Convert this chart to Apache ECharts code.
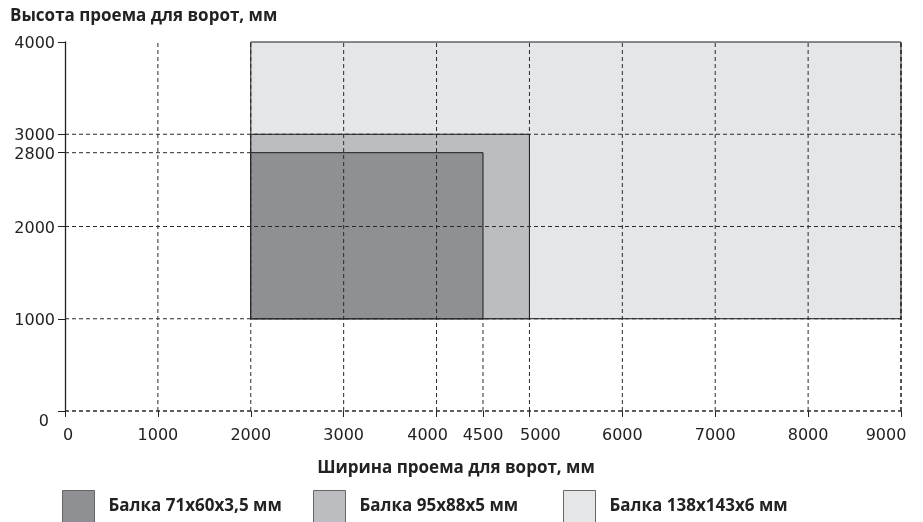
<!DOCTYPE html>
<html>
<head>
<meta charset="utf-8">
<script src="https://cdn.jsdelivr.net/npm/echarts@6/dist/echarts.min.js"></script>
<style>html,body{margin:0;padding:0;background:#fff}#c{width:923px;height:522px}</style>
</head>
<body>
<div id="c"></div>
<script>
const beams = ['Балка 71х60х3,5 мм', 'Балка 95х88х5 мм', 'Балка 138х143х6 мм'];
const beamColors = ['#8f9094', '#bcbdc0', '#e5e6e8'];
const xFrom = [2000, 2000, 2000];
const xTo = [4500, 5000, 9000];
const yFrom = [1000, 1000, 1000];
const yTo = [2800, 3000, 4000];
const xTicks = [0, 1000, 2000, 3000, 4000, 4500, 5000, 6000, 7000, 8000, 9000];
const yTicks = [0, 1000, 2000, 2800, 3000, 4000];
// grid lines: [value, from, to]
const vLines = [[1000,0,4000],[2000,0,4000],[3000,0,4000],[4000,0,4000],[4500,0,1000],[5000,0,4000],[6000,0,4000],[7000,0,4000],[8000,0,4000],[9000,0,4000]];
const hLines = [[1000,0,9000],[2000,0,9000],[2800,0,2000],[3000,0,9000],[0,0,9000]];

const chart = echarts.init(document.getElementById('c'), null, {renderer:'canvas'});
const font = '"Open Sans", "Liberation Sans", sans-serif';
const numFont = '"DejaVu Sans", sans-serif';
const lbl = {color:'#222', fontSize:16, fontFamily: numFont};
const rs = (pad) => ({fontSize:16, fontFamily: numFont, color:'#222', padding: pad});

const rectSeries = [2,1,0].map(i => ({
  name: beams[i],
  type: 'custom',
  z: 2,
  itemStyle: {color: beamColors[i], borderColor: '#777', borderWidth: 1},
  data: [[xFrom[i], yFrom[i], xTo[i], yTo[i]]],
  renderItem: function(params, api){
    const p1 = api.coord([api.value(0), api.value(1)]);
    const p2 = api.coord([api.value(2), api.value(3)]);
    return {type:'rect', shape:{x:p1[0], y:p2[1], width:p2[0]-p1[0], height:p1[1]-p2[1]},
      style:{fill: beamColors[i], stroke:'#1a1a1a', lineWidth:1}};
  }
}));

const lineSeries = [
  {type:'custom', z:5, silent:true, data: vLines,
   renderItem: function(params, api){
     const a = api.coord([api.value(0), api.value(1)]);
     const b = api.coord([api.value(0), api.value(2)]);
     const w = api.value(0) === 9000 ? 1.6 : 1;
     return {type:'line', shape:{x1:a[0], y1:a[1], x2:b[0], y2:b[1]},
       style:{stroke:'#2a2a2a', lineWidth:w, lineDash:[4,3]}};
   }},
  {type:'custom', z:5, silent:true, data: hLines,
   renderItem: function(params, api){
     const a = api.coord([api.value(1), api.value(0)]);
     const b = api.coord([api.value(2), api.value(0)]);
     const w = api.value(0) === 0 ? 1.6 : 1;
     return {type:'line', shape:{x1:a[0], y1:a[1], x2:b[0], y2:b[1]},
       style:{stroke:'#2a2a2a', lineWidth:w, lineDash:[4,3]}};
   }}
];

const legendLefts = [57, 308, 558];
chart.setOption({
  animation: false,
  title: {text:'Высота проема для ворот, мм', left: 5, top: 3,
    textStyle:{fontFamily: font, fontWeight:'bold', fontSize:17, color:'#222'}},
  grid: {left: 65, right: 22, top: 42, bottom: 111, outerBoundsMode: 'none', containLabel: false},
  legend: beams.map((b, i) => ({
    data: [b], left: legendLefts[i], top: 485, itemWidth: 32, itemHeight: 32, orient:'horizontal',
    selectedMode: false, icon: 'rect',
    itemStyle: {color: beamColors[i], borderColor:'#666', borderWidth:1},
    textStyle: {fontFamily: font, fontWeight:'bold', fontSize:17, color:'#222', padding:[0,0,0,9]}
  })),
  xAxis: {type:'value', min:0, max:9000, interval: 500,
    name:'Ширина проема для ворот, мм', nameLocation:'middle', nameGap: 49,
    nameTextStyle:{fontFamily: font, fontWeight:'bold', fontSize:17, color:'#222', padding:[0,54,0,0]},
    axisLine:{show:false},
    axisTick:{show:true, length:6, customValues: xTicks, lineStyle:{color:'#222'}},
    axisLabel:Object.assign({customValues: xTicks, margin:17, hideOverlap:false,
      formatter: v => v === 0 ? '{z|0}' : v === 4000 ? '{l|4000}' : v === 5000 ? '{r|5000}' : v === 9000 ? '{e|9000}' : String(v),
      rich:{z: rs([0,0,0,6]), l: rs([0,18,0,0]), r: rs([0,0,0,22]), e: rs([0,30,0,0])}}, lbl),
    splitLine:{show:false}},
  yAxis: {type:'value', min:0, max:4000, interval: 200,
    axisLine:{show:true, lineStyle:{color:'#222', width:1.3}},
    axisTick:{show:true, length:7, customValues: yTicks, lineStyle:{color:'#222'}},
    axisLabel:Object.assign({customValues: yTicks, margin:10, hideOverlap:false,
      formatter: v => v === 0 ? '{z|0}' : '{n|' + v + '}',
      rich:{z: rs([22,6,0,0]), n: rs([4,0,0,0])}}, lbl),
    splitLine:{show:false}},
  series: rectSeries.concat(lineSeries)
});
</script>
</body>
</html>
